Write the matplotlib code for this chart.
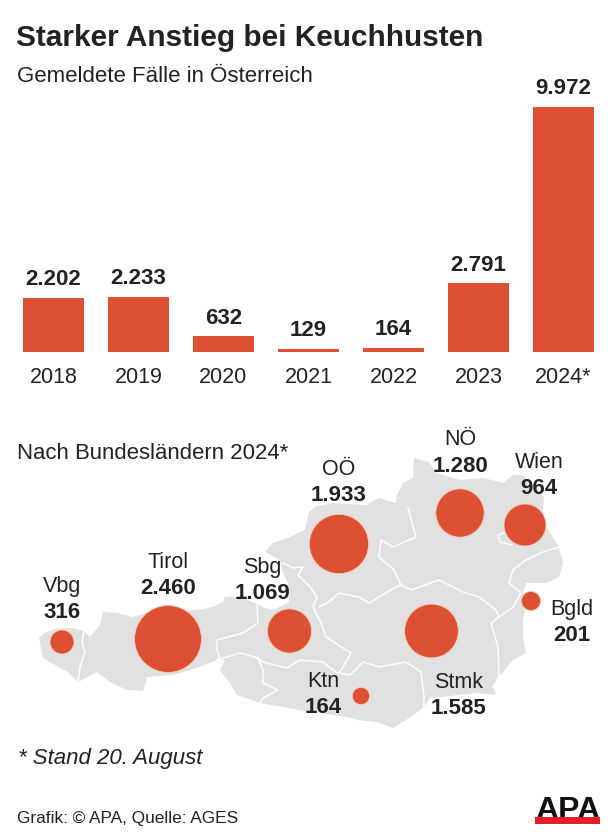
#!/usr/bin/env python3
"""Keuchhusten cases in Austria: yearly bars and a bubble map by Bundesland"""

import math
import matplotlib
matplotlib.use("Agg")
import matplotlib.pyplot as plt
from matplotlib.patches import Polygon, Rectangle

plt.rcParams["font.family"] = ["Liberation Sans", "DejaVu Sans"]

years = ["2018", "2019", "2020", "2021", "2022", "2023", "2024*"]
cases = [2202, 2233, 632, 129, 164, 2791, 9972]

states = ["Vbg", "Tirol", "Sbg", "OÖ", "NÖ", "Wien", "Bgld", "Stmk", "Ktn"]
state_cases = [316, 2460, 1069, 1933, 1280, 964, 201, 1585, 164]

# map positions in image pixels
bubble_x = [62, 168, 289.5, 339, 460, 525, 531, 431.5, 361]
bubble_y = [642, 639, 631, 544, 513, 525, 601, 631, 696]
label_x = [62, 168, 262, 339, 460, 539, 572, 459, 323]
name_y = [592, 568, 573, 475, 445, 468, 615, 688, 687]
value_y = [618, 594, 599, 501, 472, 494, 641, 714, 713]

austria_outline = [
    (39, 638), (45, 633), (55, 629), (72, 628), (84, 631), (90, 637), (100, 625), (103, 612),
    (117, 613), (133, 617), (150, 612), (197, 610), (213, 607), (223, 602), (225, 597), (240, 597),
    (255, 603), (265, 608), (273, 610), (289, 602), (288, 583), (283, 573), (280, 560), (265, 552),
    (273, 543), (290, 537), (305, 530), (309, 512), (317, 506), (333, 503), (366, 505), (379, 498),
    (396, 503), (396, 497), (403, 483), (413, 478), (414, 458), (429, 462), (436, 473), (460, 480),
    (484, 478), (503, 483), (513, 475), (523, 475), (544, 497), (543, 510), (546, 527), (558, 545),
    (563, 563), (559, 577), (546, 583), (526, 583), (523, 593), (525, 610), (523, 620), (523, 637),
    (526, 653), (513, 660), (499, 677), (493, 687), (496, 695), (476, 693), (450, 696), (430, 698),
    (424, 707), (409, 718), (393, 728), (377, 722), (357, 720), (347, 717), (300, 710), (260, 703),
    (237, 695), (230, 683), (220, 670), (225, 660), (217, 660), (197, 668), (173, 675), (147, 677),
    (143, 691), (127, 690), (110, 682), (97, 672), (78, 682), (68, 672), (55, 665), (43, 658),
]

state_borders = [
    [(84, 631), (82, 642), (85, 652), (80, 667), (78, 682)],
    [(257, 605), (258, 623), (243, 633), (217, 640), (217, 650), (220, 660)],
    [(217, 660), (240, 653), (258, 658), (263, 662), (287, 668), (300, 660), (323, 662), (337, 673), (340, 672)],
    [(258, 658), (263, 670), (263, 683), (278, 690), (263, 698), (260, 703)],
    [(283, 563), (293, 568), (303, 567), (298, 575), (310, 587), (317, 597), (313, 607), (318, 617), (321, 623),
     (326, 637), (346, 650), (351, 653), (343, 667), (339, 673), (350, 675), (363, 662), (379, 667), (406, 662),
     (421, 672), (424, 697), (424, 707)],
    [(319, 607), (329, 602), (339, 593), (359, 597), (369, 603), (396, 587), (401, 585), (411, 590), (439, 580),
     (463, 592), (479, 597), (496, 610), (499, 617), (491, 623), (498, 647), (499, 677), (493, 687)],
    [(408, 508), (416, 537), (393, 547), (381, 540), (379, 557), (394, 570), (401, 585)],
    [(559, 547), (543, 552), (526, 560), (513, 570), (509, 583), (521, 593), (513, 607), (499, 617)],
    [(504, 533), (498, 535), (500, 542), (512, 545)],
]

RED = "#dd5034"
GREY = "#e1e1e1"
INK = "#222222"
W, H = 616, 839


def de_number(v):
    return f"{v:,}".replace(",", ".")


fig = plt.figure(figsize=(W / 100, H / 100), dpi=100, facecolor="white")

# whole figure axes in pixels, for the map and the loose text
ax = fig.add_axes([0, 0, 1, 1])
ax.set_xlim(0, W)
ax.set_ylim(H, 0)
ax.axis("off")

ax.text(16, 46, "Starker Anstieg bei Keuchhusten", fontsize=21.4, fontweight="bold", color=INK)
ax.text(17, 82, "Gemeldete Fälle in Österreich", fontsize=16, color=INK)
ax.text(17, 459, "Nach Bundesländern 2024*", fontsize=15.9, color=INK)
ax.text(18, 764, "* Stand 20. August", fontsize=16, fontstyle="italic", color=INK)
ax.text(17, 823, "Grafik: © APA, Quelle: AGES", fontsize=12.4, color=INK)

ax.add_patch(Polygon(austria_outline, closed=True, facecolor=GREY, edgecolor="none", zorder=1))
for border in state_borders:
    ax.plot([p[0] for p in border], [p[1] for p in border], color="white", lw=1.1, zorder=2)

# bubble area follows the case count, Tirol has radius 33.5 px
sizes = [(2 * 33.5 * math.sqrt(v / 2460) * 0.72) ** 2 for v in state_cases]
ax.scatter(bubble_x, bubble_y, s=sizes, color=RED, edgecolors="#f4cdb9", linewidths=0.6, zorder=3)

for name, value, x, y1, y2 in zip(states, state_cases, label_x, name_y, value_y):
    ax.text(x, y1, name, ha="center", fontsize=15.5, color=INK, zorder=4)
    ax.text(x, y2, de_number(value), ha="center", fontsize=16, fontweight="bold", color=INK, zorder=4)

# APA logo
ax.add_patch(Rectangle((535, 817), 65, 7, facecolor="#e2202c", edgecolor="none", zorder=1))
ax.text(567.5, 819, "APA", ha="center", fontsize=23, fontweight="bold", color="#111111", zorder=0.5)

# yearly bars
bar_ax = fig.add_axes([11 / W, 1 - 351.7 / H, 595 / W, 244.7 / H])
bar_ax.patch.set_alpha(0)
bars = bar_ax.bar(years, cases, width=0.72, color=RED)
bar_ax.set_xlim(-0.5, 6.5)
bar_ax.set_ylim(0, 9972)
bar_ax.bar_label(bars, labels=[de_number(v) for v in cases], padding=5.4, fontsize=16,
                 fontweight="bold", color=INK, clip_on=False)
bar_ax.tick_params(axis="x", length=0, pad=11, labelsize=15.5, labelcolor=INK)
bar_ax.set_yticks([])
for side in bar_ax.spines.values():
    side.set_visible(False)

fig.savefig("out.png", dpi=100)
